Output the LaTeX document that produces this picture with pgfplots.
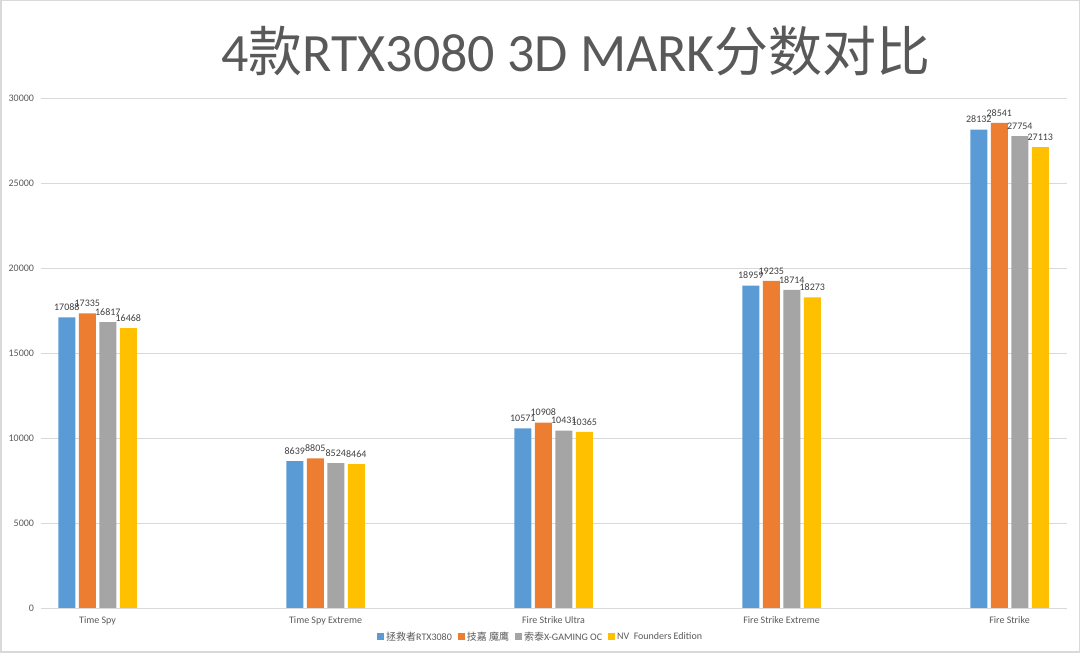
\documentclass[border=0pt]{standalone}
\usepackage{fontspec}
\setmainfont{Carlito}
\newfontfamily\cjk{Noto Sans CJK SC}
\usepackage{pgfplots}
\pgfplotsset{compat=1.18}
\definecolor{cblue}{HTML}{5B9BD5}
\definecolor{corange}{HTML}{ED7D31}
\definecolor{cgray}{HTML}{A5A5A5}
\definecolor{cyellow}{HTML}{FFC000}
\definecolor{gridc}{HTML}{D9D9D9}
\definecolor{txt}{HTML}{595959}
\definecolor{lab}{HTML}{404040}

\pgfplotstableread{
x a b c d
0 17088 17335 16817 16468
1 8639 8805 8524 8464
2 10571 10908 10431 10365
3 18959 19235 18714 18273
4 28132 28541 27754 27113
}\scores

\begin{document}
\begin{tikzpicture}[x=1pt,y=1pt]
\draw[gridc, line width=1.5pt] (0.75,0.75) rectangle (1079.25,652.25);
\begin{axis}[
  at={(41pt,45pt)}, anchor=south west,
  scale only axis,
  width=1026pt, height=510pt,
  xmin=-0.248, xmax=4.252,
  ymin=0, ymax=30000,
  ytick={0,5000,...,30000},
  scaled y ticks=false,
  xtick=data,
  xticklabels={Time Spy,Time Spy Extreme,Fire Strike Ultra,Fire Strike Extreme,Fire Strike},
  /pgf/number format/assume math mode=true,
  /pgf/number format/1000 sep={},
  tick style={draw=none},
  ymajorgrids,
  major grid style={gridc, line width=0.8pt},
  axis x line*=bottom,
  axis y line*=left,
  y axis line style={draw=none},
  x axis line style={gridc, line width=0.8pt, -},
  ticklabel style={font=\fontsize{10}{12}\selectfont, text=txt},
  xticklabel style={yshift=-1pt},
  yticklabel style={xshift=-3.5pt},
  ybar=3.5pt,
  bar width=17pt,
  nodes near coords,
  nodes near coords style={font=\fontsize{10}{12}\selectfont, text=lab, inner sep=1.5pt, yshift=5pt,
    /pgf/number format/fixed, /pgf/number format/precision=0, /pgf/number format/1000 sep={}},
  legend columns=4,
  legend style={at={(0.487,-0.056)}, anchor=center, draw=none, fill=none,
    font=\fontsize{10}{12}\selectfont, text=txt, inner sep=0pt,
    /tikz/every even column/.append style={column sep=4pt}},
  legend image code/.code={\fill[#1] (0,-3.5pt) rectangle (7pt,3.5pt);},
  clip=false,
]
\addplot[fill=cblue, draw=none] table[x=x,y=a] {\scores};
\addplot[fill=corange, draw=none] table[x=x,y=b] {\scores};
\addplot[fill=cgray, draw=none] table[x=x,y=c] {\scores};
\addplot[fill=cyellow, draw=none] table[x=x,y=d] {\scores};
\legend{{\cjk 拯救者}RTX3080,{\cjk 技嘉 魔鹰},{\cjk 索泰}X-GAMING OC,NV\ \ Founders Edition}
\end{axis}
\node[font=\fontsize{54}{58}\selectfont, text=txt] at (576pt,602pt)
  {4{\cjk 款}RTX3080 3D MARK{\cjk 分数对比}};
\end{tikzpicture}
\end{document}
